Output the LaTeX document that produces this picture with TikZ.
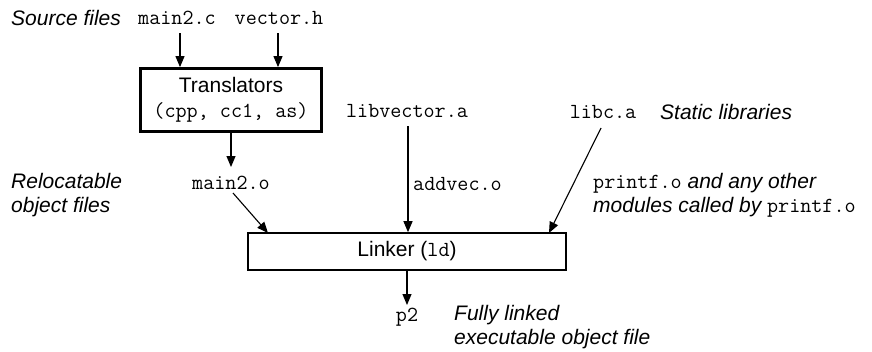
\documentclass[tikz,border=0pt]{standalone}
\usepackage{fontspec}
\setmainfont{Liberation Sans}
\usetikzlibrary{arrows.meta}
\newcommand\cd[1]{{\ttfamily\upshape\fontsize{21.5}{24}\selectfont #1}}
\begin{document}
\begin{tikzpicture}[x=1pt,y=-1pt,
  every node/.style={inner sep=0pt, font=\fontsize{21}{24}\selectfont},
  lbl/.style={anchor=west, align=left},
  arr/.style={-{Triangle[length=11pt,width=9pt]}, line width=1.1pt},
  tbox/.style={draw, line width=2.8pt, minimum width=181pt, minimum height=63pt},
  lbox/.style={draw, line width=1.6pt, minimum width=318pt, minimum height=37pt}]
\useasboundingbox (0,0) rectangle (872,351);
% source files
\node[lbl] (src) at (11,18) {\itshape Source files};
\node (mainc) at (177,18) {\cd{main2.c}};
\node (vech) at (279,18) {\cd{vector.h}};
\coordinate (m1) at (180,33);
\coordinate (v1) at (278,33);
% translators
\node[tbox, align=center] (tr) at (231,100) {Translators\\[1pt]\cd{(cpp, cc1, as)}};
\draw[arr] (m1) -- (m1 |- tr.north);
\draw[arr] (v1) -- (v1 |- tr.north);
% main2.o
\node (maino) at (231,183) {\cd{main2.o}};
\node[lbl] (reloc) at (11,195.5) {\itshape Relocatable\\\itshape object files};
\draw[arr] (tr.south -| 231,0) -- (231,167);
% libs
\node (libv) at (407,111) {\cd{libvector.a}};
\node (libc) at (603,112) {\cd{libc.a}};
\node[lbl] (stat) at (660,112) {\itshape Static libraries};
\node[lbl] (addv) at (413,184) {\cd{addvec.o}};
\node[lbl] (prf) at (593,195) {\cd{printf.o} \itshape and any other\\\itshape modules called by \cd{printf.o}};
% linker
\node[lbox] (lnk) at (407,251.5) {Linker (\cd{ld})};
\coordinate (lm) at (233,193);
\coordinate (lc) at (601,128);
\coordinate (lv) at (408,126);
\draw[arr] (lm) -- (268,233);
\draw[arr] (lv) -- (lv |- lnk.north);
\draw[arr] (lc) -- (549,233);
% output
\node (p2) at (407,317) {\cd{p2}};
\node[lbl] (full) at (454,327) {\itshape Fully linked\\\itshape executable object file};
\draw[arr] (lnk.south) -- (407,305);
\end{tikzpicture}
\end{document}
